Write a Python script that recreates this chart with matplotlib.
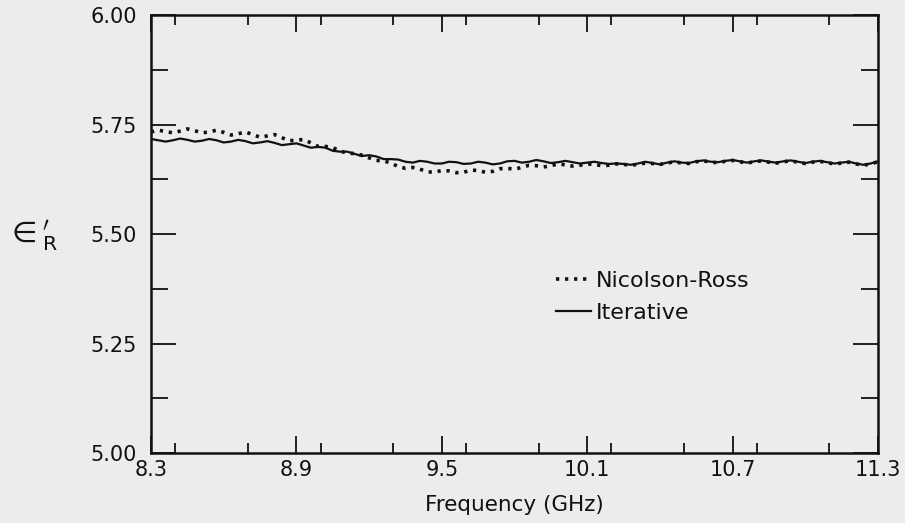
import numpy as np
import matplotlib
matplotlib.use("Agg")
import matplotlib.pyplot as plt
from matplotlib.ticker import MultipleLocator, FixedLocator

plt.rcParams['font.family'] = ['DejaVu Sans']

freq = [round(8.30 + 0.03 * i, 2) for i in range(101)]

iterative = [
    5.717, 5.714, 5.711, 5.714, 5.718, 5.715, 5.711, 5.713, 5.717, 5.714,
    5.709, 5.711, 5.715, 5.712, 5.707, 5.709, 5.712, 5.708, 5.703, 5.705,
    5.707, 5.702, 5.697, 5.699, 5.697, 5.690, 5.688, 5.688, 5.683, 5.678,
    5.680, 5.677, 5.671, 5.671, 5.670, 5.665, 5.663, 5.667, 5.665, 5.661,
    5.661, 5.665, 5.664, 5.660, 5.661, 5.665, 5.663, 5.659, 5.661, 5.666,
    5.667, 5.663, 5.665, 5.669, 5.666, 5.662, 5.664, 5.667, 5.664, 5.661,
    5.663, 5.665, 5.662, 5.660, 5.661, 5.660, 5.658, 5.661, 5.665, 5.662,
    5.659, 5.663, 5.666, 5.663, 5.662, 5.666, 5.668, 5.665, 5.664, 5.667,
    5.669, 5.666, 5.663, 5.666, 5.668, 5.665, 5.663, 5.666, 5.668, 5.665,
    5.662, 5.665, 5.667, 5.664, 5.661, 5.663, 5.665, 5.661, 5.658, 5.661,
    5.666,
]

nicolson_ross = [
    5.733, 5.737, 5.734, 5.731, 5.735, 5.740, 5.736, 5.731, 5.733, 5.737,
    5.732, 5.726, 5.729, 5.733, 5.727, 5.721, 5.724, 5.727, 5.720, 5.713,
    5.714, 5.716, 5.708, 5.700, 5.700, 5.697, 5.690, 5.684, 5.684, 5.680,
    5.674, 5.668, 5.667, 5.662, 5.654, 5.650, 5.652, 5.648, 5.642, 5.641,
    5.645, 5.644, 5.640, 5.641, 5.646, 5.645, 5.641, 5.643, 5.649, 5.650,
    5.648, 5.652, 5.657, 5.656, 5.653, 5.656, 5.660, 5.658, 5.655, 5.657,
    5.660, 5.659, 5.656, 5.657, 5.660, 5.659, 5.657, 5.659, 5.662, 5.661,
    5.659, 5.662, 5.665, 5.662, 5.661, 5.665, 5.667, 5.664, 5.663, 5.666,
    5.668, 5.665, 5.662, 5.665, 5.667, 5.664, 5.662, 5.665, 5.667, 5.664,
    5.661, 5.664, 5.666, 5.663, 5.660, 5.662, 5.664, 5.660, 5.657, 5.660,
    5.665,
]

x_labels = ["8.3", "8.9", "9.5", "10.1", "10.7", "11.3"]
x_label_pos = [8.3, 8.9, 9.5, 10.1, 10.7, 11.3]
y_labels = ["5.00", "5.25", "5.50", "5.75", "6.00"]
y_label_pos = [5.00, 5.25, 5.50, 5.75, 6.00]

bg = '#ececec'
ink = '#111111'
fig = plt.figure(figsize=(9.05, 5.23), dpi=100, facecolor=bg)
ax = fig.add_axes([0.1669, 0.1338, 0.8032, 0.8375], facecolor=bg)

ax.plot(freq, nicolson_ross, color=ink, lw=2.6, linestyle=(0, (0.9, 1.6)),
        label='Nicolson-Ross')
ax.plot(freq, iterative, color=ink, lw=1.6, label='Iterative')

ax.set_xlim(8.3, 11.3)
ax.set_ylim(5.0, 6.0)

ax.xaxis.set_major_locator(FixedLocator(x_label_pos))
ax.set_xticklabels(x_labels)
ax.xaxis.set_minor_locator(MultipleLocator(0.3))
ax.yaxis.set_major_locator(FixedLocator(y_label_pos))
ax.set_yticklabels(y_labels)
ax.yaxis.set_minor_locator(MultipleLocator(0.125))

ax.tick_params(which='both', direction='in', top=True, right=True, color=ink,
               labelsize=15, labelcolor=ink)
ax.tick_params(axis='x', which='major', length=12, width=1.3, pad=5)
ax.tick_params(axis='x', which='minor', length=7, width=1.3)
ax.tick_params(axis='y', which='major', length=18, width=1.3, pad=10)
ax.tick_params(axis='y', which='minor', length=12, width=1.3)

for s in ax.spines.values():
    s.set_linewidth(1.8)
    s.set_color(ink)

ax.set_xlabel('Frequency (GHz)', fontsize=15.5, color=ink, labelpad=11)

fig.text(0.036, 0.548, r"$\in^{\prime}_{\mathregular{R}}$", fontsize=21, color=ink,
         ha='center', va='center')

leg = ax.legend(loc='upper left', bbox_to_anchor=(0.557, 0.416), frameon=False,
                fontsize=16, handlelength=1.6, handletextpad=0.22, labelspacing=0.55,
                borderpad=0, borderaxespad=0)
for t in leg.get_texts():
    t.set_color(ink)

fig.savefig('out.png', dpi=100, facecolor=bg)
